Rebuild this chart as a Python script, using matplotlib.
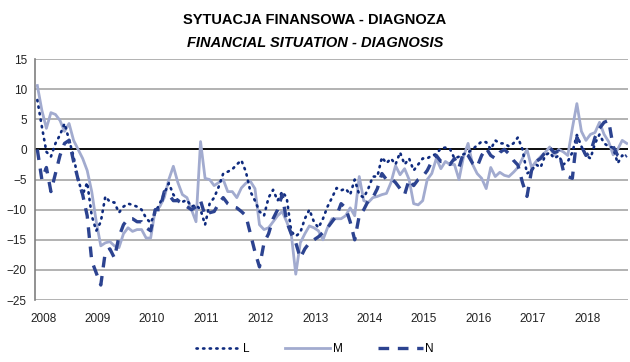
import matplotlib.pyplot as plt
import numpy as np

plt.rcParams['font.family'] = ['Liberation Sans Narrow', 'Liberation Sans', 'DejaVu Sans']

# monthly readings, Jan 2008 - Nov 2018
years = ['2008', '2009', '2010', '2011', '2012', '2013', '2014', '2015', '2016', '2017', '2018']

L = [8.2, 3.8, -0.4, -1.2, 1, 2.4, 4.3, 1.6, -1.2, -5, -7.5, -5.5,
     -11, -13.5, -12, -7.8, -8.7, -8.8, -10.5, -9.5, -9, -9.2, -9.5, -10,
     -11.4, -12.2, -10.5, -9, -7.3, -5.6, -7.5, -8.4, -8.7, -8.4, -9.5, -9.2,
     -10, -12.5, -9, -8, -6.2, -4, -3.7, -3.3, -2.5, -1.8, -3.7, -7,
     -8.5, -10.3, -11, -8, -6.7, -8.5, -7, -8, -13.6, -14.4, -13.8, -11.5,
     -10, -12, -13, -11.5, -9.5, -8, -6.4, -6.8, -6.5, -7.5, -5, -7.5,
     -8, -6.5, -4.5, -4.5, -1.3, -2.3, -1.5, -2.5, -0.5, -2.5, -1.5, -3.5,
     -2.5, -1.5, -1.5, -1, -0.8, 0.2, 0.3, 0.1, -1.5, -1.2, -0.8, -0.5,
     0, 0.7, 1.3, 1.2, 0, 1.5, 1, 1, 0.5, 1, 2, 0,
     -4, -3.5, -2.5, -3, -1, -0.5, -1.5, -1, -2.5, -2, -0.5, 2.4,
     0.5, -1, -1.5, 1, 2.5, 1, 0.5, 0.3, -2.3, -1, -1.5]

M = [10.6, 6.5, 3.5, 6.1, 5.8, 4.8, 3, 4.3, 1.5, 0, -1.5, -3.5,
     -7, -12, -16, -15.5, -15.3, -16, -16.3, -14, -13, -13.6, -13.3, -13.3,
     -14.7, -14.7, -10, -9.5, -8, -5, -2.8, -5.5, -7.5, -8, -10, -12,
     1.3, -4.8, -5, -6, -5.5, -5, -7, -7, -8, -6.4, -5.6, -5.3,
     -6.5, -12.5, -13.3, -13, -12, -11, -10.3, -12, -14, -20.7, -15.5, -14,
     -12.7, -13, -13.5, -15, -13, -11.5, -11.5, -11.5, -11, -9.7, -11, -4.5,
     -8.5, -8.8, -8, -7.8, -7.5, -7.3, -5.5, -2.7, -4.2, -3.2, -5, -9,
     -9.2, -8.5, -5, -4, -1.5, -3.2, -2, -2.5, -2.5, -5, -1.2, 1,
     -2.5, -4, -4.8, -6.5, -3, -4.5, -3.8, -4.3, -4.5, -3.8, -3, -1.5,
     0, -3, -2, -1.2, -0.5, 0.4, -1, 0, -0.4, -1, 3.5, 7.6,
     3, 1.5, 2.5, 2.8, 4.5, 2.5, 1.3, -0.9, 0, 1.5, 1]

N = [0, -5, -3, -7, -4, -1, 1, 1.5, -2, -5, -7.5, -11,
     -18.5, -20.5, -22.5, -17, -16.5, -18, -14.5, -12.5, -11.5, -11.5, -12, -12,
     -13, -13.5, -10, -10, -7, -7.5, -8.5, -8.5, -9, -9.5, -10, -9.5,
     -8.5, -11, -10.5, -10.3, -9, -8, -9, -9.5, -9.7, -10.3, -11, -14,
     -17, -19.5, -15.5, -14, -11.5, -10, -7.5, -12, -14, -15.5, -18, -16.5,
     -15.5, -15, -14.5, -13.8, -13, -12, -11, -9, -9.7, -12, -15, -11,
     -10, -8.5, -8, -6.5, -4, -5, -4.8, -5.5, -6.5, -7.5, -5, -6,
     -5, -4.5, -3.5, -2, -1, -2, -2, -2.5, -1.5, -3, -0.5, -1,
     -2.3, -2.9, -1, 0.2, -1, -1.5, -0.5, 0, -0.7, -1.8, -2.6, -5.5,
     -7.8, -3.5, -2, -1.5, -0.5, 0.3, -0.5, -0.3, -3.5, -4.5, -4.8, 2,
     0.5, -1, -0.5, 2, 3.5, 4.5, 4.8, 0.5, -1, -1.5, -1]

x = np.arange(len(L))

fig = plt.figure(figsize=(6.3, 3.62), dpi=100)
ax = fig.add_axes([0.056, 0.171, 0.941, 0.666])

# gridlines first, zero line on top of them
for v in range(-25, 16, 5):
    ax.axhline(v, color='#a6a6a6', lw=1.2, zorder=1)
ax.axhline(0, color='black', lw=1.3, zorder=2)

ax.plot(x, M, color='#a2abcf', lw=2.0, label='M', zorder=3)
ax.plot(x, L, color='#0e2a7e', lw=1.9, linestyle=(0, (0.5, 2.0)),
        dash_capstyle='round', label='L', zorder=4)
ax.plot(x, N, color='#2c4390', lw=2.4, linestyle=(0, (3.2, 2.6)), label='N', zorder=5)

ax.set_xlim(-0.45, 130.3)
ax.set_ylim(-25, 15)
ax.set_yticks(range(-25, 16, 5))
ax.set_xticks(np.arange(len(years)) * 12 + 1.3)
ax.set_xticklabels(years)
ax.tick_params(axis='both', length=0, labelsize=8.5, colors='#222222')
ax.tick_params(axis='x', pad=9)
ax.tick_params(axis='y', pad=6)

for s in ['top', 'right', 'bottom']:
    ax.spines[s].set_visible(False)
ax.spines['left'].set_color('#7f7f7f')
ax.spines['left'].set_linewidth(1.2)

fig.text(0.5, 0.945, 'SYTUACJA FINANSOWA - DIAGNOZA', ha='center', va='center',
         fontsize=10.5, fontweight='bold')
fig.text(0.5, 0.882, 'FINANCIAL SITUATION - DIAGNOSIS', ha='center', va='center',
         fontsize=10.5, fontweight='bold', style='italic')

h, l = ax.get_legend_handles_labels()
order = [1, 0, 2]
fig.legend([h[i] for i in order], [l[i] for i in order], loc='lower center',
           bbox_to_anchor=(0.5, -0.01), ncol=3, frameon=False, fontsize=8.5,
           handlelength=3.8, handletextpad=0.2, columnspacing=3.0)

fig.savefig('out.png', dpi=100)
